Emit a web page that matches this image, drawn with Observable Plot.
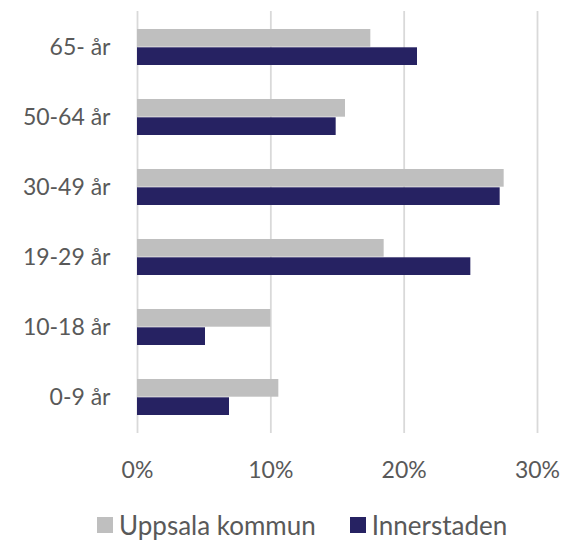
<!DOCTYPE html>
<html>
<head>
<meta charset="utf-8">
<script src="https://cdn.jsdelivr.net/npm/d3@7"></script>
<script src="https://cdn.jsdelivr.net/npm/@observablehq/plot@0.6"></script>
<style>
  html, body { margin: 0; padding: 0; background: #fff; }
  #chart { width: 561px; }
  .legend { display: flex; align-items: center; height: 50px; padding-left: 97px;
    font-family: Lato, "Open Sans", sans-serif; font-size: 26px; color: #595959; }
  .sw { width: 16px; height: 16px; display: inline-block; margin-right: 6px; }
  .item { display: flex; align-items: center; margin-right: 34px; }
</style>
</head>
<body>
<div id="chart"></div>
<script>
const ageGroups = ["65- år", "50-64 år", "30-49 år", "19-29 år", "10-18 år", "0-9 år"];
const seriesNames = ["Uppsala kommun", "Innerstaden"];
const uppsala = [0.175, 0.156, 0.275, 0.185, 0.100, 0.106];
const innerstaden = [0.210, 0.149, 0.272, 0.250, 0.051, 0.069];
const seriesColors = ["#bfbfbf", "#262262"];
const xTicks = [0, 0.1, 0.2, 0.3];

const rowsU = ageGroups.map((a, i) => ({age: a, series: seriesNames[0], value: uppsala[i]}));
const rowsI = ageGroups.map((a, i) => ({age: a, series: seriesNames[1], value: innerstaden[i]}));

const plot = Plot.plot({
  width: 561,
  height: 500,
  marginTop: 11,
  marginBottom: 67,
  marginLeft: 137,
  marginRight: 24,
  style: {fontFamily: "Lato, 'Open Sans', sans-serif", fontSize: "23px", color: "#595959", background: "#fff"},
  x: {domain: [0, 0.3], ticks: xTicks, tickFormat: d => Math.round(d * 100) + "%", label: null},
  y: {domain: ageGroups, paddingInner: 0.48, paddingOuter: 0.24, label: null},
  color: {domain: seriesNames, range: seriesColors},
  marks: [
    Plot.gridX(xTicks, {stroke: "#d9d9d9", strokeWidth: 1.8, strokeOpacity: 1}),
    Plot.barX(rowsU, {y: "age", x: "value", fill: "series", insetBottom: 18.3}),
    Plot.barX(rowsI, {y: "age", x: "value", fill: "series", insetTop: 18.3}),
    Plot.axisX({ticks: xTicks, tickFormat: d => Math.round(d * 100) + "%", tickSize: 0, tickPadding: 28, label: null}),
    Plot.axisY({tickSize: 0, tickPadding: 27, label: null})
  ]
});
document.getElementById("chart").appendChild(plot);

const legend = document.createElement("div");
legend.className = "legend";
seriesNames.forEach((s, i) => {
  const item = document.createElement("span");
  item.className = "item";
  const sw = document.createElement("span");
  sw.className = "sw";
  sw.style.background = seriesColors[i];
  item.appendChild(sw);
  item.appendChild(document.createTextNode(s));
  legend.appendChild(item);
});
document.getElementById("chart").appendChild(legend);
</script>
</body>
</html>
